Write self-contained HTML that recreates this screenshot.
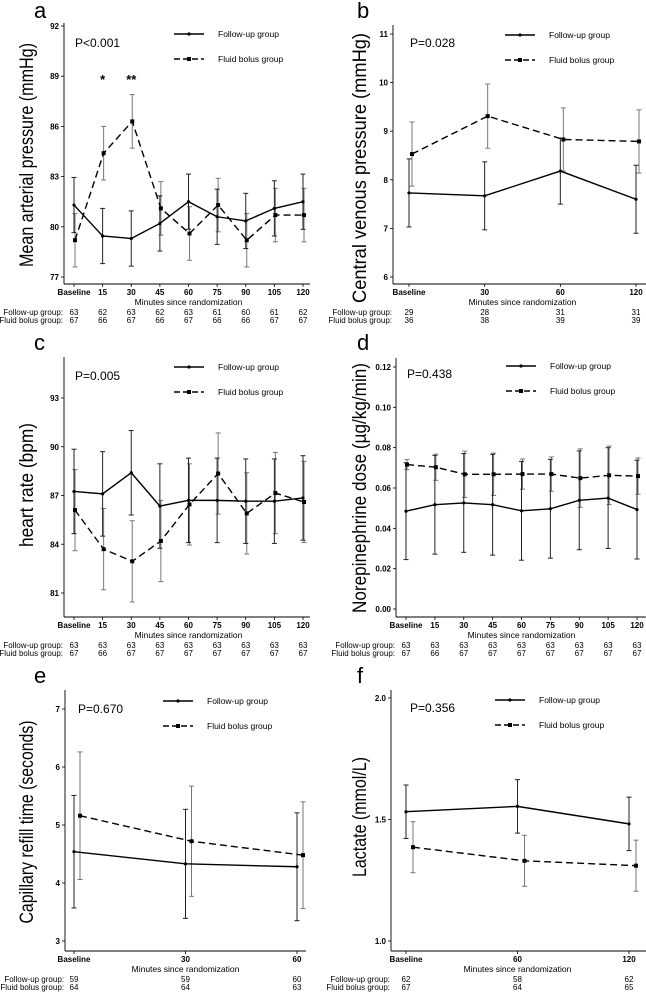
<!DOCTYPE html>
<html><head><meta charset="utf-8"><style>
html,body{margin:0;padding:0;background:#fff}
svg{display:block}
text{font-family:"Liberation Sans",Arial,sans-serif;fill:#000}
.tk{font-size:8px;font-weight:bold}
.rw{font-size:8px}
</style></head><body>
<svg id="fig" width="646" height="992" viewBox="0 0 646 992" xmlns="http://www.w3.org/2000/svg"></svg>
<script>
// Panel a: mean arterial pressure
const aCats=["Baseline","15","30","45","60","75","90","105","120"];
const aFollow=[81.3,79.45,79.3,80.2,81.5,80.6,80.35,81.1,81.5];
const aFollowErr=[1.65,1.65,1.65,1.65,1.65,1.65,1.65,1.65,1.65];
const aFluid=[79.2,84.4,86.3,81.1,79.6,81.3,79.2,80.7,80.7];
const aFluidErr=[1.6,1.6,1.6,1.6,1.6,1.6,1.6,1.6,1.6];
const aTicks=[77,80,83,86,89,92];
const aNFollow=["63","62","63","62","63","61","60","61","62"];
const aNFluid=["67","66","67","66","67","66","66","67","67"];
// Panel b: central venous pressure
const bCats=["Baseline","30","60","120"];
const bFollow=[7.73,7.67,8.18,7.6];
const bFollowErr=[0.7,0.7,0.68,0.7];
const bFluid=[8.53,9.31,8.83,8.79];
const bFluidErr=[0.66,0.66,0.65,0.65];
const bTicks=[6,7,8,9,10,11];
const bNFollow=["29","28","31","31"];
const bNFluid=["36","38","39","39"];
// Panel c: heart rate
const cCats=["Baseline","15","30","45","60","75","90","105","120"];
const cFollow=[87.25,87.1,88.4,86.35,86.7,86.7,86.65,86.65,86.85];
const cFollowErr=[2.6,2.6,2.6,2.6,2.6,2.6,2.6,2.6,2.6];
const cFluid=[86.1,83.7,82.95,84.2,86.45,88.35,85.9,87.15,86.6];
const cFluidErr=[2.5,2.5,2.5,2.5,2.5,2.5,2.5,2.5,2.5];
const cTicks=[81,84,87,90,93];
const cNFollow=["63","63","63","63","63","63","63","63","63"];
const cNFluid=["67","66","67","67","67","67","67","67","67"];
// Panel d: norepinephrine dose
const dCats=["Baseline","15","30","45","60","75","90","105","120"];
const dFollow=[0.0485,0.0517,0.0526,0.0517,0.0487,0.0497,0.0539,0.055,0.0493];
const dFollowErr=[0.024,0.0245,0.0245,0.025,0.0245,0.0245,0.0245,0.025,0.0245];
const dFluid=[0.0716,0.0703,0.0668,0.0668,0.0669,0.0669,0.0649,0.0663,0.0659];
const dFluidErr=[0.0025,0.0065,0.0115,0.0105,0.0075,0.0085,0.0145,0.0145,0.009];
const dTicks=[0,0.02,0.04,0.06,0.08,0.10,0.12];
const dNFollow=["63","63","63","63","63","63","63","63","63"];
const dNFluid=["67","66","67","67","67","67","67","67","67"];
// Panel e: capillary refill time
const eCats=["Baseline","30","60"];
const eFollow=[4.54,4.33,4.28];
const eFollowErr=[0.97,0.94,0.93];
const eFluid=[5.16,4.72,4.48];
const eFluidErr=[1.1,0.95,0.92];
const eTicks=[3,4,5,6,7];
const eNFollow=["59","59","60"];
const eNFluid=["64","64","63"];
// Panel f: lactate
const fCats=["Baseline","60","120"];
const fFollow=[1.532,1.554,1.482];
const fFollowErr=[0.11,0.11,0.11];
const fFluid=[1.386,1.33,1.31];
const fFluidErr=[0.105,0.105,0.105];
const fTicks=[1.0,1.5,2.0];
const fNFollow=["62","58","62"];
const fNFluid=["67","64","65"];

const NS="http://www.w3.org/2000/svg";
const fig=document.getElementById('fig');
function mk(tag,attrs,parent,txt){const e=document.createElementNS(NS,tag);for(const k in attrs)e.setAttribute(k,attrs[k]);if(txt!==undefined)e.textContent=txt;(parent||fig).appendChild(e);return e;}

function panel(P){
  const g=mk('g',{});
  
  
  const y=v=>P.yv0px+(v-P.yv0)*(P.yv1px-P.yv0px)/(P.yv1-P.yv0);
  const n=P.cats.length;
  const x=i=>P.x0+i*(P.x1-P.x0)/(n-1);
  // letter
  const L=mk('text',{x:P.lx,y:P.ly,'font-size':22},g,P.id);
  
  // axes
  const ya=mk('line',{x1:P.ax,y1:P.atop,x2:P.ax,y2:P.abot,stroke:'#000','stroke-width':0.9},g);
  
  const xa=mk('line',{x1:P.ax,y1:P.abot,x2:P.aright,y2:P.abot,stroke:'#000','stroke-width':0.9},g);
  
  P.ticks.forEach(t=>{
    mk('line',{x1:P.ax-3,y1:y(t),x2:P.ax,y2:y(t),stroke:'#000','stroke-width':0.8},g);
    const tl=mk('text',{x:P.ax-5,y:y(t)+3,'text-anchor':'end',class:'tk'},g,P.fmt?P.fmt(t):String(t));
    
  });
  P.cats.forEach((c,i)=>{
    mk('line',{x1:x(i),y1:P.abot,x2:x(i),y2:P.abot+3,stroke:'#000','stroke-width':0.8},g);
    const tl=mk('text',{x:x(i),y:P.abot+11,'text-anchor':'middle',class:'tk'},g,c);
    
    const n1=mk('text',{x:x(i),y:P.abot+31,'text-anchor':'middle',class:'rw'},g,P.nFollow[i]);
    
    const n2=mk('text',{x:x(i),y:P.abot+39,'text-anchor':'middle',class:'rw'},g,P.nFluid[i]);
    
  });
  const xt=mk('text',{x:(P.x0+P.x1)/2,y:P.abot+21,'text-anchor':'middle','font-size':8.5},g,'Minutes since randomization');
  
  const r1=mk('text',{x:P.ax-1,y:P.abot+31,'text-anchor':'end',class:'rw'},g,'Follow-up group:');
  
  const r2=mk('text',{x:P.ax-1,y:P.abot+39,'text-anchor':'end',class:'rw'},g,'Fluid bolus group:');
  
  // y title
  const yt=mk('text',{x:0,y:0,'text-anchor':'middle','font-size':19,textLength:P.tlen,lengthAdjust:'spacingAndGlyphs',transform:`translate(${P.tx},${P.ty}) rotate(-90)`},g,P.title);
  
  // p value
  const pv=mk('text',{x:P.px,y:P.py,'font-size':12},g,P.p);
  
  // legend
  const lg=mk('g',{},g);
  mk('line',{x1:P.lgx,y1:P.lgy,x2:P.lgx+30,y2:P.lgy,stroke:'#000','stroke-width':1.4},lg);
  mk('circle',{cx:P.lgx+15,cy:P.lgy,r:1.6},lg);
  const e1=mk('text',{x:P.lgx+44,y:P.lgy+3,'font-size':8.5},lg,'Follow-up group');
  
  mk('line',{x1:P.lgx,y1:P.lgy+25,x2:P.lgx+30,y2:P.lgy+25,stroke:'#000','stroke-width':1.4,'stroke-dasharray':'6,3'},lg);
  mk('rect',{x:P.lgx+13,y:P.lgy+23,width:4,height:4},lg);
  const e2=mk('text',{x:P.lgx+44,y:P.lgy+28,'font-size':8.5},lg,'Fluid bolus group');
  
  // error bars
  const xf=i=>x(i)+P.off;
  function errs(vals,er,xfn,col,name){
    vals.forEach((v,i)=>{
      const eb=mk('g',{stroke:col,'stroke-width':1},g);
      
      const X=xfn(i);
      mk('line',{x1:X,y1:y(v+er[i]),x2:X,y2:y(v-er[i])},eb);
      mk('line',{x1:X-2.5,y1:y(v+er[i]),x2:X+2.5,y2:y(v+er[i])},eb);
      mk('line',{x1:X-2.5,y1:y(v-er[i]),x2:X+2.5,y2:y(v-er[i])},eb);
    });
  }
  errs(P.fluid,P.fluidErr,xf,'#777','error-bar-fluid-bolus');
  errs(P.follow,P.followErr,x,'#222','error-bar-follow-up');
  const l1=mk('polyline',{points:P.follow.map((v,i)=>x(i)+','+y(v)).join(' '),fill:'none',stroke:'#000','stroke-width':1.4},g);
  
  const l2=mk('polyline',{points:P.fluid.map((v,i)=>xf(i)+','+y(v)).join(' '),fill:'none',stroke:'#000','stroke-width':1.4,'stroke-dasharray':'7,4'},g);
  
  P.follow.forEach((v,i)=>{const c=mk('circle',{cx:x(i),cy:y(v),r:1.6},g);
    });
  P.fluid.forEach((v,i)=>{const r=mk('rect',{x:xf(i)-2,y:y(v)-2,width:4,height:4},g);
    });
  (P.stars||[]).forEach(s=>{const t=mk('text',{x:x(s.i),y:P.starY,'text-anchor':'middle','font-size':13,'font-weight':'bold'},g,s.t);
    });
}

panel({id:'a',cats:aCats,follow:aFollow,followErr:aFollowErr,fluid:aFluid,fluidErr:aFluidErr,ticks:aTicks,nFollow:aNFollow,nFluid:aNFluid,
  yv0:77,yv0px:277,yv1:92,yv1px:26,x0:74,x1:303,off:1,ax:64,atop:23,abot:284,aright:310,lx:34,ly:18,
  title:'Mean arterial pressure (mmHg)',tx:33,ty:155,tlen:224,p:'P<0.001',px:75,py:47,lgx:174,lgy:34,
  stars:[{i:1,t:'*'},{i:2,t:'**'}],starY:84});
panel({id:'b',cats:bCats,follow:bFollow,followErr:bFollowErr,fluid:bFluid,fluidErr:bFluidErr,ticks:bTicks,nFollow:bNFollow,nFluid:bNFluid,
  yv0:6,yv0px:277,yv1:11,yv1px:34,x0:409,x1:636,off:3,ax:393,atop:25,abot:284,aright:646,lx:357,ly:18,
  title:'Central venous pressure (mmHg)',tx:366,ty:168,tlen:270,p:'P=0.028',px:410,py:47,lgx:505,lgy:35});
panel({id:'c',cats:cCats,follow:cFollow,followErr:cFollowErr,fluid:cFluid,fluidErr:cFluidErr,ticks:cTicks,nFollow:cNFollow,nFluid:cNFluid,
  yv0:81,yv0px:593,yv1:93,yv1px:398,x0:74,x1:303,off:1,ax:64,atop:357,abot:617,aright:310,lx:34,ly:350,
  title:'heart rate (bpm)',tx:33,ty:485,tlen:124,p:'P=0.005',px:75,py:380,lgx:174,lgy:367});
panel({id:'d',cats:dCats,follow:dFollow,followErr:dFollowErr,fluid:dFluid,fluidErr:dFluidErr,ticks:dTicks,nFollow:dNFollow,nFluid:dNFluid,
  yv0:0,yv0px:609,yv1:0.12,yv1px:367,x0:406,x1:637,off:1,ax:396,atop:358,abot:617,aright:646,lx:357,ly:350,fmt:t=>t.toFixed(2),
  title:'Norepinephrine dose (\u00b5g/kg/min)',tx:366,ty:488,tlen:250,p:'P=0.438',px:407,py:378,lgx:506,lgy:366});
panel({id:'e',cats:eCats,follow:eFollow,followErr:eFollowErr,fluid:eFluid,fluidErr:eFluidErr,ticks:eTicks,nFollow:eNFollow,nFluid:eNFluid,
  yv0:3,yv0px:941,yv1:7,yv1px:709,x0:74,x1:297,off:6,ax:65,atop:690,abot:951,aright:306,lx:34,ly:683,
  title:'Capillary refill time (seconds)',tx:33,ty:822,tlen:203,p:'P=0.670',px:78,py:713,lgx:163,lgy:701});
panel({id:'f',cats:fCats,follow:fFollow,followErr:fFollowErr,fluid:fFluid,fluidErr:fFluidErr,ticks:fTicks,nFollow:fNFollow,nFluid:fNFluid,
  yv0:1.0,yv0px:941,yv1:2.0,yv1px:698,x0:406,x1:629,off:7,ax:391,atop:690,abot:951,aright:646,lx:357,ly:683,fmt:t=>t.toFixed(1),
  title:'Lactate (mmol/L)',tx:366,ty:817,tlen:120,p:'P=0.356',px:410,py:712,lgx:495,lgy:700});
</script>
</body></html>
